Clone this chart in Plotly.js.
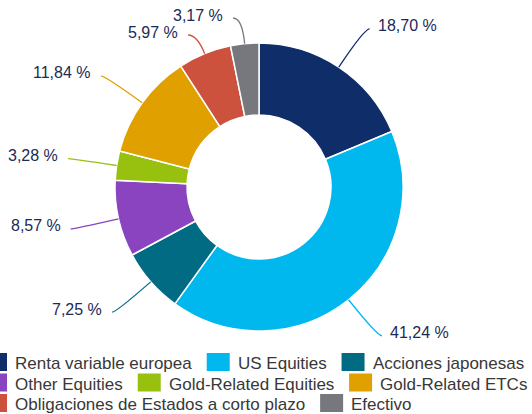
<!DOCTYPE html>
<html><head><meta charset="utf-8">
<script src="https://cdn.plot.ly/plotly-3.0.1.min.js"></script>
<style>html,body{margin:0;padding:0;background:#fff;overflow:hidden}#chart{width:532px;height:414px}</style>
</head><body><div id="chart"></div>
<script>
// ---- data ----
const categories = ['Renta variable europea', 'US Equities', 'Acciones japonesas', 'Other Equities',
  'Gold-Related Equities', 'Gold-Related ETCs', 'Obligaciones de Estados a corto plazo', 'Efectivo'];
const values = [18.70, 41.24, 7.25, 8.57, 3.28, 11.84, 5.97, 3.17];
const valueLabels = ['18,70 %', '41,24 %', '7,25 %', '8,57 %', '3,28 %', '11,84 %', '5,97 %', '3,17 %'];
const colors = ['#0f2d69', '#00b7ee', '#006b82', '#8a44bf', '#98c10f', '#e0a100', '#cd523d', '#76787e'];

// ---- layout constants ----
const W = 532, H = 414;
const CX = 259, CY = 187, R = 144;
const FONT = '"Liberation Sans", Arial, Helvetica, sans-serif';
const LABEL_COLOR = '#1b2a57';
const px = x => x / W, py = y => 1 - y / H;

const total = values.reduce((a, b) => a + b, 0);
let cum = 0;
const items = values.map((v, i) => {
  const mid = (cum + v / 2) / total * 2 * Math.PI; cum += v;
  const s = Math.sin(mid), c = Math.cos(mid);
  return { i, s, c, side: s >= 0 ? 1 : -1, ex: CX + R * s, ey: CY - R * c, y: CY - 190 * c, clamped: false };
});
// resolve label positions per side
[1, -1].forEach(side => {
  const arr = items.filter(o => o.side === side).sort((a, b) => a.y - b.y);
  arr.forEach((o, k) => {
    if (o.y < 18) { o.y = 18; o.clamped = true; }
    if (k > 0 && o.y < arr[k - 1].y + 17) o.y = arr[k - 1].y + 17;
  });
});
const shapes = [], annotations = [];
items.forEach(o => {
  const t = (o.y - o.ey) / (-o.c);
  const ctrlX = o.ex + t * o.s;
  let endX;
  if (o.clamped) endX = ctrlX + o.side * 9;
  else { const dy = o.y - CY; endX = CX + o.side * Math.sqrt(Math.max(193 * 193 - dy * dy, 0)); }
  shapes.push({ type: 'path', xref: 'paper', yref: 'paper',
    path: `M${px(o.ex)},${py(o.ey)} Q${px(ctrlX)},${py(o.y)} ${px(endX)},${py(o.y)}`,
    line: { color: colors[o.i], width: 1.3 } });
  annotations.push({ xref: 'paper', yref: 'paper', showarrow: false, borderpad: 0,
    x: px(endX + (o.side > 0 ? 7 : -9)), y: py(o.y - 3),
    xanchor: o.side > 0 ? 'left' : 'right', yanchor: 'middle',
    text: valueLabels[o.i], font: { family: FONT, size: 16, color: LABEL_COLOR } });
});

// ---- custom legend (flow layout) ----
const LFS = 17;
const ctx = document.createElement('canvas').getContext('2d');
ctx.font = LFS + 'px ' + FONT;
const SQW = 23, SQH = 18, GAP = 7, ITEMGAP = 16, ROW0 = 362, PITCH = 20.5;
let lx = -16, row = 0;
categories.forEach((name, i) => {
  const tw = ctx.measureText(name).width;
  if (lx > -16 && lx + SQW + GAP + tw > W) { lx = -16; row++; }
  const ry = ROW0 + row * PITCH;
  shapes.push({ type: 'rect', xref: 'paper', yref: 'paper', x0: px(lx), x1: px(lx + SQW),
    y0: py(ry - SQH / 2), y1: py(ry + SQH / 2), fillcolor: colors[i], line: { width: 0 } });
  annotations.push({ xref: 'paper', yref: 'paper', showarrow: false, borderpad: 0,
    x: px(lx + SQW + GAP), y: py(ry + 1.5), xanchor: 'left', yanchor: 'middle',
    text: name, font: { family: FONT, size: LFS, color: '#383838' } });
  lx += SQW + GAP + tw + ITEMGAP;
});

const trace = {
  type: 'pie', labels: categories, values: values, sort: false, direction: 'clockwise', rotation: 0,
  hole: 0.5, textinfo: 'none', hoverinfo: 'none', showlegend: false,
  marker: { colors: colors, line: { color: '#ffffff', width: 1.5 } },
  domain: { x: [px(CX - R), px(CX + R)], y: [py(CY + R), py(CY - R)] }
};
Plotly.newPlot('chart', [trace], {
  width: W, height: H, margin: { l: 0, r: 0, t: 0, b: 0 }, showlegend: false,
  paper_bgcolor: '#fff', plot_bgcolor: '#fff', shapes, annotations,
  font: { family: FONT }
}, { staticPlot: true, displayModeBar: false });
</script></body></html>
